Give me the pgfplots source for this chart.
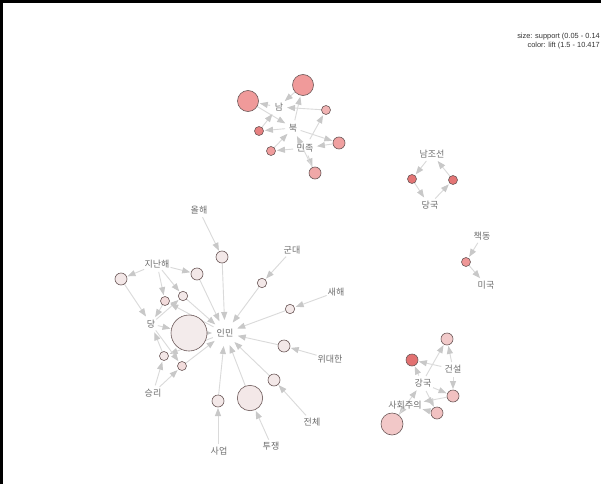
\documentclass[border=0pt]{standalone}
\usepackage{fontspec}
\setmainfont{Liberation Sans}
\newfontfamily\kr{Noto Sans CJK KR}
\usepackage{pgfplots}
\pgfplotsset{compat=1.18}
\usetikzlibrary{arrows.meta}

\definecolor{nodeline}{HTML}{6B5858}
\definecolor{edgec}{HTML}{DADADA}
\definecolor{headc}{HTML}{C8C8C8}
\definecolor{labc}{HTML}{6E6E6E}

% rule nodes: x y radius lift
\pgfplotstableread{
x   y   r    lift
248 101 10.5 6.9
303 85  10.5 6.9
326 110 4.5  5.3
259 131 4.5  8.6
339 143 6    6.5
271 151 4.5  6.8
315 173 6    6.0
412 179 4.5  9.3
453 180 4.5  9.3
466 262 4.5  7.2
447 339 6    3.8
412 360 6    9.6
453 396 6    4.4
437 413 6    4.4
392 424 11   3.9
222 257 6    1.8
262 283 4.7  1.8
290 309 4.7  1.8
284 346 6    1.8
274 380 6    1.8
250 398 12.7 1.8
218 401 6    1.8
189 333 18   1.6
121 279 6    1.9
197 274 6    1.8
183 296 4.7  1.8
165 301 4.5  2.7
164 356 4.5  1.9
182 366 4.5  2.6
}\rules

% edges: from, to, shorten at start, shorten at end
\pgfplotstableread{
x1  y1  x2  y2  s  e
278 107 248 101 8  12
248 101 293 128 0  9
293 128 303 85  8  12
303 85  278 107 0  9
305 148 326 110 10 6
326 110 278 107 0  9
293 128 259 131 8  6
259 131 278 107 0  9
293 128 339 143 8  7
339 143 305 148 0  12
305 148 271 151 12 6
271 151 293 128 0  8
305 148 315 173 8  7
315 173 293 128 0  9
432 154 412 179 9  6
412 179 429 205 0  9
429 205 453 180 9  6
453 180 432 154 0  9
482 236 466 262 8  6
466 262 486 285 0  9
422 383 447 339 8  7
453 369 447 339 7  7
453 369 412 360 12 7
422 383 412 360 8  7
422 383 453 396 12 7
453 369 453 396 8  7
422 383 437 413 9  7
437 413 406 405 0  17
453 396 406 405 0  18
406 405 392 424 4  12
392 424 422 383 0  9
199 210 222 257 8  7
222 257 225 333 0  13
292 250 262 283 9  6
262 283 225 333 0  13
336 292 290 309 10 6
290 309 225 333 0  13
330 359 284 346 14 7
284 346 225 333 0  13
312 422 274 380 9  7
274 380 225 333 0  13
272 447 250 398 8  14
250 398 225 333 0  13
218 452 218 401 8  7
218 401 225 333 0  13
151 324 189 333 7  19
189 333 225 333 0  13
157 264 121 279 14 7
121 279 151 324 0  9
157 264 197 274 14 7
197 274 225 333 0  13
157 264 183 296 8  6
151 324 183 296 7  6
183 296 225 333 0  13
157 264 165 301 8  6
225 333 165 301 13 6
165 301 151 324 0  8
153 393 164 356 8  6
225 333 164 356 13 6
164 356 151 324 0  9
153 393 182 366 9  6
151 324 182 366 8  6
182 366 225 333 0  13
}\edges

\begin{document}
\begin{tikzpicture}
\begin{axis}[
    scale only axis, width=601pt, height=484pt,
    xmin=0, xmax=601, ymin=0, ymax=484, y dir=reverse,
    hide axis,
    colormap={lift}{rgb255(0pt)=(243,237,237) rgb255(6pt)=(240,155,155) rgb255(10pt)=(222,100,100)},
    point meta min=1.5, point meta max=10.417,
  ]
  \fill[white] (rel axis cs:0,0) rectangle (rel axis cs:1,1);

  % edges
  \addplot[
    draw=edgec, line width=0.9pt,
    -{Triangle[length=8pt,width=6pt,color=headc]},
    visualization depends on={\thisrow{s}\as\sA},
    visualization depends on={\thisrow{e}\as\sB},
    quiver={u=\thisrow{x2}-\thisrow{x1}, v=\thisrow{y2}-\thisrow{y1},
      every arrow/.append style={shorten <=\sA pt, shorten >=\sB pt}},
  ] table[x=x1, y=y1] {\edges};

  % rule nodes
  \addplot[
    scatter, only marks, mark=*, point meta=\thisrow{lift},
    scatter/use mapped color={draw=nodeline, fill=mapped color},
    visualization depends on={\thisrow{r}\as\rad},
    scatter/@pre marker code/.append style={/tikz/mark size=\rad},
    mark options={line width=0.6pt},
  ] table[x=x, y=y] {\rules};

  % item labels
  \begin{scope}[every node/.style={font=\kr\fontsize{9}{10}\selectfont, text=labc}]
  \node at (axis cs:279,107) {남};
  \node at (axis cs:293,128) {북};
  \node at (axis cs:305,148) {민족};
  \node at (axis cs:432,154) {남조선};
  \node at (axis cs:430,205) {당국};
  \node at (axis cs:482,236) {책동};
  \node at (axis cs:486,285) {미국};
  \node at (axis cs:453,369) {건설};
  \node at (axis cs:423,383) {강국};
  \node at (axis cs:405,405) {사회주의};
  \node at (axis cs:199,210) {올해};
  \node at (axis cs:292,250) {군대};
  \node at (axis cs:157,264) {지난해};
  \node at (axis cs:336,292) {새해};
  \node at (axis cs:151,324) {당};
  \node at (axis cs:225,333) {인민};
  \node at (axis cs:330,359) {위대한};
  \node at (axis cs:153,393) {승리};
  \node at (axis cs:312,422) {전체};
  \node at (axis cs:219,451) {사업};
  \node at (axis cs:271,446) {투쟁};
  \end{scope}

  % legend text
  \node[anchor=east, font=\fontsize{7.4}{8}\selectfont, text=black!80, inner sep=0pt] at (axis cs:600,37) {size: support (0.05 - 0.14};
  \node[anchor=east, font=\fontsize{7.4}{8}\selectfont, text=black!80, inner sep=0pt] at (axis cs:600,45.5) {color: lift (1.5 - 10.417};

  % frame
  \draw[line width=2.8pt] (axis cs:1.4,484) -- (axis cs:1.4,1.4) -- (axis cs:601,1.4);
\end{axis}
\end{tikzpicture}
\end{document}
